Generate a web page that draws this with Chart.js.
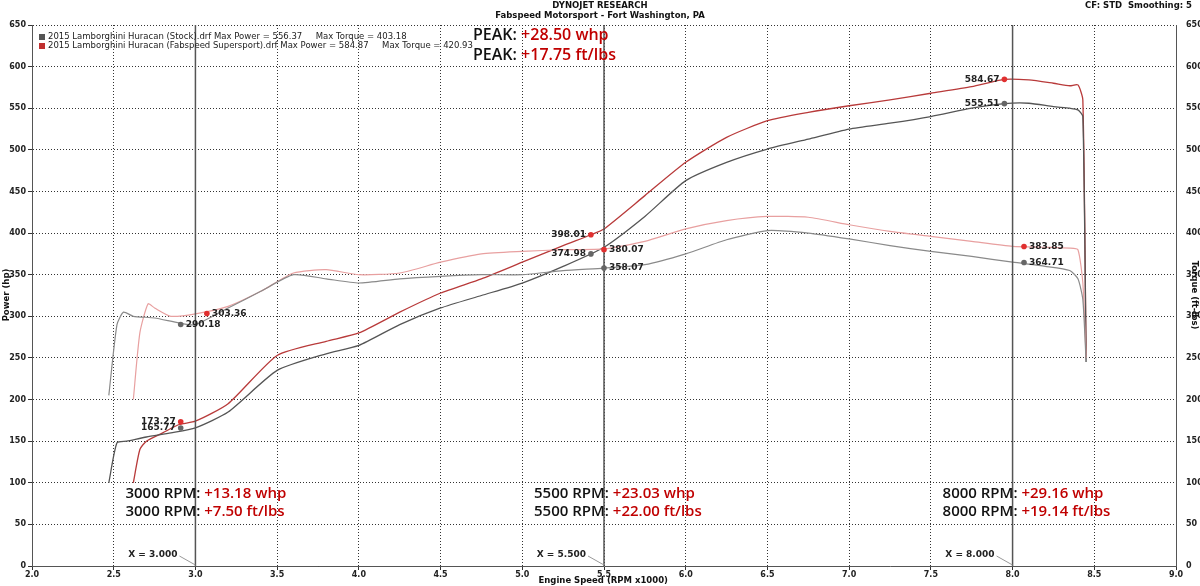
<!DOCTYPE html>
<html><head><meta charset="utf-8">
<script src="https://cdn.jsdelivr.net/npm/chart.js@4"></script>
<style>html,body{margin:0;background:#fff}#w{width:1200px;height:586px;position:relative}</style>
</head><body><div id="w"><canvas id="c"></canvas></div>
<script>
const rpmStockP=[2.47,2.52,2.58,2.7,2.85,3.0,3.2,3.5,3.8,4.0,4.25,4.5,4.75,5.0,5.25,5.5,5.75,6.0,6.25,6.5,6.75,7.0,7.25,7.5,7.75,7.95,8.1,8.25,8.35,8.4,8.43,8.45];
const stockPower=[100,148,150,155,160,166,185,235,255,265,290,310,325,340,360,383,420,463,485,501,513,525,532,540,550,555.5,556,552,550,548,540,245];
const rpmFabP=[2.62,2.66,2.7,2.8,2.9,3.0,3.2,3.5,3.8,4.0,4.25,4.5,4.75,5.0,5.25,5.42,5.5,5.75,6.0,6.25,6.5,6.75,7.0,7.25,7.5,7.75,7.95,8.1,8.25,8.35,8.4,8.43,8.45];
const fabPower=[100,140,150,160,170,174,195,253,270,280,305,328,345,365,385,398,405,445,485,515,535,545,553,560,568,576,584.7,584,580,577,578,560,250];
const rpmStockT=[2.47,2.52,2.56,2.62,2.75,2.9,3.0,3.2,3.4,3.6,3.8,4.0,4.25,4.5,4.75,5.0,5.25,5.5,5.75,6.0,6.25,6.5,6.75,7.0,7.25,7.5,7.75,8.0,8.2,8.35,8.4,8.43,8.45];
const stockTorque=[205,290,305,300,298,292,290,310,330,350,345,340,345,348,350,350,355,358,362,375,392,403,400,393,385,378,372,365,360,355,345,320,245];
const rpmFabT=[2.62,2.66,2.71,2.75,2.85,3.0,3.2,3.4,3.6,3.8,4.0,4.25,4.5,4.75,5.0,5.25,5.5,5.75,6.0,6.25,6.5,6.75,7.0,7.25,7.5,7.75,8.0,8.2,8.35,8.4,8.43,8.45];
const fabTorque=[200,280,315,310,300,303,312,330,352,356,350,352,365,375,378,380,381,390,405,415,420,419,410,402,396,390,384,383,382,380,340,250];
const markers=[[2.91,173.27,'173.27','#e03030','l'],[2.91,165.77,'165.77','#666','l'],[2.91,290.18,'290.18','#666','r'],[3.07,303.36,'303.36','#e03030','r'],
[5.42,398.01,'398.01','#e03030','l'],[5.42,374.98,'374.98','#666','l'],[5.5,380.07,'380.07','#e03030','r'],[5.5,358.07,'358.07','#666','r'],
[7.95,584.67,'584.67','#e03030','l'],[7.95,555.51,'555.51','#666','l'],[8.07,383.85,'383.85','#e03030','r'],[8.07,364.71,'364.71','#666','r']];
const xTicks=[2.0,2.5,3.0,3.5,4.0,4.5,5.0,5.5,6.0,6.5,7.0,7.5,8.0,8.5,9.0];
const yTicks=[0,50,100,150,200,250,300,350,400,450,500,550,600,650];
const z=(a,b)=>a.map((x,i)=>({x,y:b[i]}));
const notes=[[3.0,'3000 RPM: ','+13.18 whp',87],[3.0,'3000 RPM: ','+7.50 ft/lbs',65],[5.5,'5500 RPM: ','+23.03 whp',87],[5.5,'5500 RPM: ','+22.00 ft/lbs',65],[8.0,'8000 RPM: ','+29.16 whp',87],[8.0,'8000 RPM: ','+19.14 ft/lbs',65]];
const overlay={id:'ov',afterDatasetsDraw(ch){
 const c=ch.ctx,xs=ch.scales.x,ys=ch.scales.y,a=ch.chartArea;
 c.save();
 c.strokeStyle='#555';c.lineWidth=1.5;
 [3.0,5.5,8.0].forEach(v=>{const px=xs.getPixelForValue(v);c.beginPath();c.moveTo(px,a.top);c.lineTo(px,a.bottom);c.stroke();});
 c.font='bold 9px "DejaVu Sans"';c.fillStyle='#222';c.textBaseline='middle';
 [[3.0,'X = 3.000'],[5.5,'X = 5.500'],[8.0,'X = 8.000']].forEach(([v,t])=>{const px=xs.getPixelForValue(v);c.textAlign='right';c.fillStyle='#222';c.fillText(t,px-18,a.bottom-11);c.strokeStyle='#999';c.lineWidth=1;c.beginPath();c.moveTo(px-16,a.bottom-10);c.lineTo(px,a.bottom-1);c.stroke();});
 markers.forEach(([x,y,t,col,s])=>{const px=xs.getPixelForValue(x),py=ys.getPixelForValue(y);c.fillStyle=col;c.beginPath();c.arc(px,py,2.8,0,7);c.fill();c.fillStyle='#222';c.font='bold 9px "DejaVu Sans"';c.textAlign=s==='l'?'right':'left';c.fillText(t,px+(s==='l'?-5:5),py);});
 c.font='600 15px "Open Sans"';c.textAlign='left';
 notes.forEach(([x,a1,b1,y])=>{const px=xs.getPixelForValue(x)-70,py=ys.getPixelForValue(y);c.fillStyle='#111';c.fillText(a1,px,py);const w=c.measureText(a1).width;c.fillStyle='#c00000';c.fillText(b1,px+w,py);});
 c.font='600 16px "Open Sans"';
 [['PEAK: ','+28.50 whp',637],['PEAK: ','+17.75 ft/lbs',613]].forEach(([a1,b1,y])=>{const px=473,py=ys.getPixelForValue(y);c.fillStyle='#111';c.fillText(a1,px,py);const w=c.measureText(a1).width;c.fillStyle='#c00000';c.fillText(b1,px+w,py);});
 c.font='8.5px "DejaVu Sans"';c.fillStyle='#222';
 c.fillText('2015 Lamborghini Huracan (Stock).drf Max Power = 556.37     Max Torque = 403.18',48,37);
 c.fillText('2015 Lamborghini Huracan (Fabspeed Supersport).drf Max Power = 584.87     Max Torque = 420.93',48,46);
 c.fillStyle='#555';c.fillRect(39,34,6,6);c.fillStyle='#c03030';c.fillRect(39,43,6,6);
 c.font='bold 8.5px "DejaVu Sans"';c.textAlign='center';c.fillStyle='#111';
 c.fillText('DYNOJET RESEARCH',600,6);c.fillText('Fabspeed Motorsport - Fort Washington, PA',600,16);
 c.textAlign='right';c.fillText('CF: STD  Smoothing: 5',1192,6);
 c.fillText('Engine Speed (RPM x1000)',668,581);
 c.save();c.translate(7,295);c.rotate(-Math.PI/2);c.textAlign='center';c.fillText('Power (hp)',0,0);c.restore();
 c.save();c.translate(1194,295);c.rotate(Math.PI/2);c.textAlign='center';c.fillText('Torque (ft-lbs)',0,0);c.restore();
 c.restore();
}};
const ds=(d,col,w)=>({data:d,borderColor:col,borderWidth:w,pointRadius:0,tension:0.2,fill:false});
new Chart(document.getElementById('c'),{type:'line',
 data:{datasets:[ds(z(rpmStockT,stockTorque),'#8a8a8a',1.2),ds(z(rpmFabT,fabTorque),'#e8a0a0',1.2),ds(z(rpmStockP,stockPower),'#555',1.3),ds(z(rpmFabP,fabPower),'#b83a3a',1.3)]},
 options:{responsive:true,maintainAspectRatio:false,animation:false,
  layout:{padding:{left:0,right:0,top:25,bottom:0}},
  plugins:{legend:{display:false},tooltip:{enabled:false}},
  scales:{
   x:{type:'linear',min:2,max:9,afterBuildTicks:s=>{s.ticks=xTicks.map(v=>({value:v}));},afterFit:s=>{s.height=20;},
    ticks:{callback:v=>v.toFixed(1),font:{family:'DejaVu Sans',size:8,weight:'bold'},color:'#222',padding:0,maxRotation:0},
    grid:{color:'#333',lineWidth:1,tickLength:4},border:{dash:[1,2],display:true,color:'#555'}},
   y:{min:0,max:650,afterBuildTicks:s=>{s.ticks=yTicks.map(v=>({value:v}));},afterFit:s=>{s.width=32;},
    ticks:{font:{family:'DejaVu Sans',size:8,weight:'bold'},color:'#222',padding:2},
    grid:{color:'#333',tickLength:4},border:{dash:[1,2],color:'#555'}},
   y2:{position:'right',min:0,max:650,afterBuildTicks:s=>{s.ticks=yTicks.map(v=>({value:v}));},afterFit:s=>{s.width=24;},
    ticks:{font:{family:'DejaVu Sans',size:8,weight:'bold'},color:'#222',padding:2},
    grid:{display:false},border:{color:'#555'}}
  }}, plugins:[overlay]});
</script></body></html>
